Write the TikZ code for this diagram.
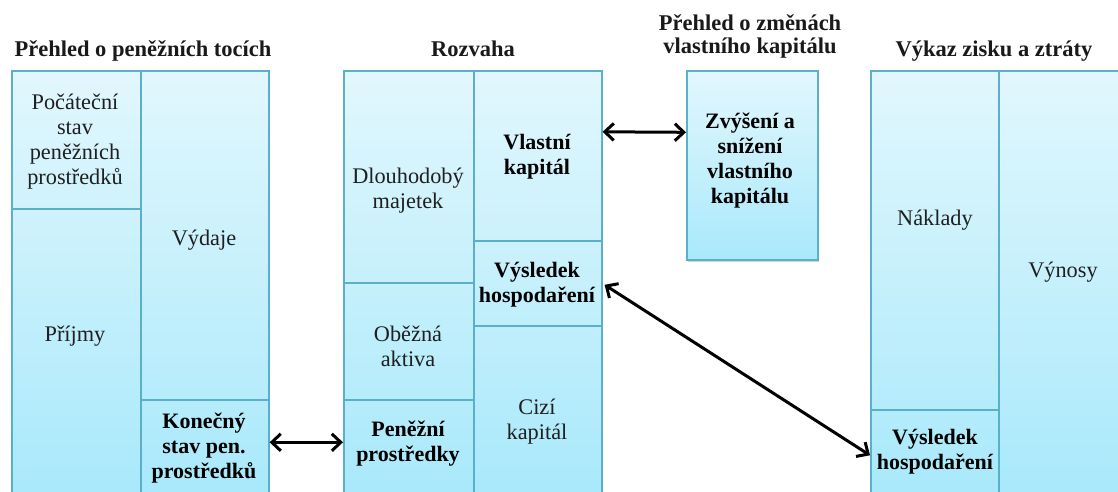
\documentclass[tikz,border=0pt]{standalone}
\usepackage{fontspec}
\setmainfont{Liberation Serif}
\usetikzlibrary{arrows.meta,shadows}
\definecolor{bord}{HTML}{5AB0CA}
\definecolor{topc}{HTML}{E2F7FD}
\definecolor{botc}{HTML}{A9E9FB}
\begin{document}
\begin{tikzpicture}[x=1pt,y=-1pt,
  cell/.style={draw=bord, line width=1.6pt, anchor=north west, inner sep=0pt},
  txt/.style={font=\fontsize{22.3}{25}\selectfont, align=center, text=black!88},
  btxt/.style={font=\fontsize{22}{25}\selectfont\bfseries, align=center, text=black},
  ttl/.style={font=\fontsize{22.5}{23}\selectfont\bfseries, align=center, text=black!90},
  arr/.style={line width=3pt, {Straight Barb[length=9pt,width=17pt]}-{Straight Barb[length=9pt,width=17pt]}}]
\useasboundingbox (0,0) rectangle (1118,491);
\begin{scope}
\clip (0,0) rectangle (1118,491);
% backgrounds
\shade[top color=topc, bottom color=botc] (11,70) rectangle (268,491);
\shade[top color=topc, bottom color=botc] (343,70) rectangle (601,491);
\shade[top color=topc, bottom color=botc] (870,70) rectangle (1128,491);
% Prehled o peneznich tocich
\node[cell, minimum width=129pt, minimum height=138pt] (pocatecni) at (11,70) {};
\node[cell, minimum width=129pt, minimum height=300pt] (prijmy) at (11,208) {};
\node[cell, minimum width=128pt, minimum height=329pt] (vydaje) at (140,70) {};
\node[cell, minimum width=128pt, minimum height=110pt] (konecny) at (140,399) {};
% Rozvaha
\node[cell, minimum width=130pt, minimum height=212pt] (dlouhodoby) at (343,70) {};
\node[cell, minimum width=130pt, minimum height=117pt] (obezna) at (343,282) {};
\node[cell, minimum width=130pt, minimum height=110pt] (penezni) at (343,399) {};
\node[cell, minimum width=128pt, minimum height=170pt] (vlastni) at (473,70) {};
\node[cell, minimum width=128pt, minimum height=85pt] (vysR) at (473,240) {};
\node[cell, minimum width=128pt, minimum height=184pt] (cizi) at (473,325) {};
% Vykaz zisku a ztraty
\node[cell, minimum width=128pt, minimum height=339pt] (naklady) at (870,70) {};
\node[cell, minimum width=128pt, minimum height=100pt] (vysZ) at (870,409) {};
\node[cell, minimum width=130pt, minimum height=439pt] (vynosy) at (998,70) {};
\end{scope}
% Prehled o zmenach vlastniho kapitalu
\node[cell, minimum width=131pt, minimum height=189pt, top color=topc, bottom color=botc,
  drop shadow={shadow xshift=1.5pt, shadow yshift=-2.5pt, opacity=0.35}] (zvyseni) at (686,70) {};

% titles
\node[ttl, anchor=base] (t1) at (143,56) {Přehled o peněžních tocích};
\node[ttl, anchor=base] (t2) at (473,56) {Rozvaha};
\node[ttl] (t3) at (750,36) {Přehled o změnách\\vlastního kapitálu};
\node[ttl, anchor=base] (t4) at (994,56) {Výkaz zisku a ztráty};

% texts
\node[txt] (l1) at (75,142) {Počáteční\\stav\\peněžních\\prostředků};
\node[txt] (l2) at (204,240) {Výdaje};
\node[txt] (l3) at (75,336) {Příjmy};
\node[btxt] (l4) at (204,448) {Konečný\\stav pen.\\prostředků};
\node[txt] (l5) at (408,191) {Dlouhodobý\\majetek};
\node[btxt] (l6) at (537,157) {Vlastní\\kapitál};
\node[btxt] (l7) at (537,285) {Výsledek\\hospodaření};
\node[txt] (l8) at (408,346) {Oběžná\\aktiva};
\node[txt] (l9) at (537,422) {Cizí\\kapitál};
\node[btxt] (l10) at (408,444) {Peněžní\\prostředky};
\node[btxt] (l11) at (750,161) {Zvýšení a\\snížení\\vlastního\\kapitálu};
\node[txt] (l12) at (935,220) {Náklady};
\node[txt] (l13) at (1063,272) {Výnosy};
\node[btxt] (l14) at (935,452) {Výsledek\\hospodaření};

% arrows
\draw[arr] ([yshift=12.5pt]konecny.east) -- ([yshift=12.5pt]penezni.west);
\draw[arr] ([yshift=24pt]vlastni.east) -- ([yshift=33pt]zvyseni.west);
\draw[arr] ([xshift=2pt,yshift=-1.5pt]vysR.east) -- ([yshift=4.5pt]vysZ.west);
\end{tikzpicture}
\end{document}
